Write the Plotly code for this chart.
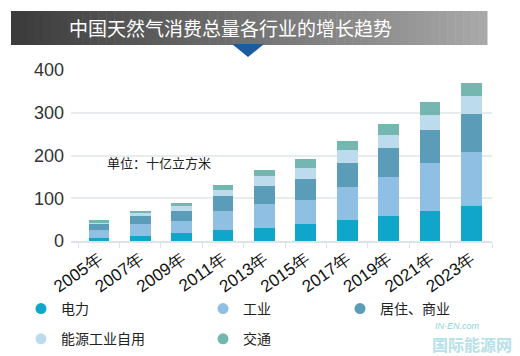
import plotly.graph_objects as go

years = ["2005年", "2007年", "2009年", "2011年", "2013年", "2015年", "2017年", "2019年", "2021年", "2023年"]
power = [8, 12.5, 18, 26, 30, 40, 48, 58, 70, 83]
industry = [18, 26.5, 28, 44, 56.5, 57, 79, 92, 112, 126]
residential = [13, 20, 25, 35, 42.5, 48, 56, 68, 78, 87]
own_use = [5, 6.5, 10, 14, 23, 26, 29, 30, 35, 44]
transport = [4, 5.5, 8, 12, 15, 21, 23, 25, 30, 30]

series = [
    ("电力", power, "#10a6c9", "legend", "g1"),
    ("工业", industry, "#8fbfe2", "legend2", "g1"),
    ("居住、商业", residential, "#5b9cb8", "legend3", "g1"),
    ("能源工业自用", own_use, "#bcdcee", "legend", "g2"),
    ("交通", transport, "#74b7b0", "legend2", "g2"),
]

fig = go.Figure()
for name, vals, col, lg, grp in series:
    fig.add_trace(go.Bar(x=years, y=vals, name=name, marker=dict(color=col, line=dict(width=0)),
                         showlegend=False))
# legend-only markers (placed below the visible range, clipped)
for name, vals, col, lg, grp in series:
    fig.add_trace(go.Scatter(x=[years[0]], y=[-1000], mode="markers", name=name, cliponaxis=True,
                             marker=dict(color=col, size=11, symbol="circle"), hoverinfo="skip",
                             legend=lg, legendgroup=grp, showlegend=True))

W, H = 520, 356
L, R, T, B = 71, 28, 70, 115
pw, ph = W - L - R, H - T - B

def px(x):
    return (x - L) / pw

def py(y):
    return (H - B - y) / ph

shapes = []
N = 60
x0, x1 = 11, 487
for i in range(N):
    a = x0 + (x1 - x0) * i / N
    b = x0 + (x1 - x0) * (i + 1) / N + 0.5
    t = i / (N - 1)
    c = int(0x3c + (0xa8 - 0x3c) * t)
    shapes.append(dict(type="rect", xref="paper", yref="paper", x0=px(a), x1=px(b), y0=py(45), y1=py(11),
                       fillcolor=f"rgb({c},{c},{c})", line=dict(width=0), layer="above"))
shapes.append(dict(type="path", xref="paper", yref="paper",
                   path=f"M {px(232)},{py(44)} L {px(264)},{py(44)} L {px(248)},{py(57)} Z",
                   fillcolor="#1a5c9e", line=dict(width=0)))

legend_common = dict(orientation="v", font=dict(size=14, color="#222", family="Noto Sans CJK SC"),
                     xref="container", yref="container", yanchor="top", xanchor="left",
                     tracegroupgap=9, bgcolor="rgba(0,0,0,0)", itemwidth=30)

ly = 1 - 293 / H
fig.update_layout(
    width=W, height=H,
    margin=dict(l=L, r=R, t=T, b=B, autoexpand=False),
    paper_bgcolor="white", plot_bgcolor="white",
    barmode="stack", bargap=0.5,
    font=dict(family="Liberation Sans, Arial, sans-serif", color="#222"),
    shapes=shapes,
    legend=dict(x=21 / W, y=ly, **legend_common),
    legend2=dict(x=203 / W, y=ly, **legend_common),
    legend3=dict(x=340 / W, y=ly, **legend_common),
    annotations=[
        dict(text="中国天然气消费总量各行业的增长趋势", xref="paper", yref="paper", x=px(230), y=py(28),
             showarrow=False, font=dict(size=19, color="white", family="Noto Sans CJK SC"), xanchor="center", yanchor="middle"),
        dict(text="单位：十亿立方米", xref="paper", yref="paper", x=px(105), y=py(162),
             showarrow=False, font=dict(size=13, color="#222", family="Noto Sans CJK SC"), xanchor="left", yanchor="middle"),
        dict(text="<i>IN-EN.com</i>", xref="paper", yref="paper", x=px(457), y=py(326),
             showarrow=False, font=dict(size=9, color="#8fd3dc", family="Liberation Sans"), xanchor="center", yanchor="middle"),
        dict(text="<b>国际能源网</b>", xref="paper", yref="paper", x=px(472), y=py(344),
             showarrow=False, font=dict(size=16, color="#b5e2e8", family="Noto Sans CJK SC"), xanchor="center", yanchor="middle"),
    ],
)
fig.update_yaxes(range=[0, 400], autorange=False, tickvals=[0, 100, 200, 300, 400], showgrid=True, gridcolor="#e8ecef",
                 gridwidth=1.5, zeroline=False, ticks="", tickfont=dict(size=18, color="#333"), ticklabelstandoff=6)
fig.update_xaxes(tickangle=-35, tickfont=dict(size=17, color="#111"), showline=True, linecolor="#dde4e8",
                 linewidth=1.5, ticks="outside", tickson="boundaries", ticklen=5, tickcolor="#dde4e8", showgrid=False)

fig.write_html("out.html", config={"displayModeBar": False},
               post_script="document.body.style.margin='0';document.body.style.padding='0';")
